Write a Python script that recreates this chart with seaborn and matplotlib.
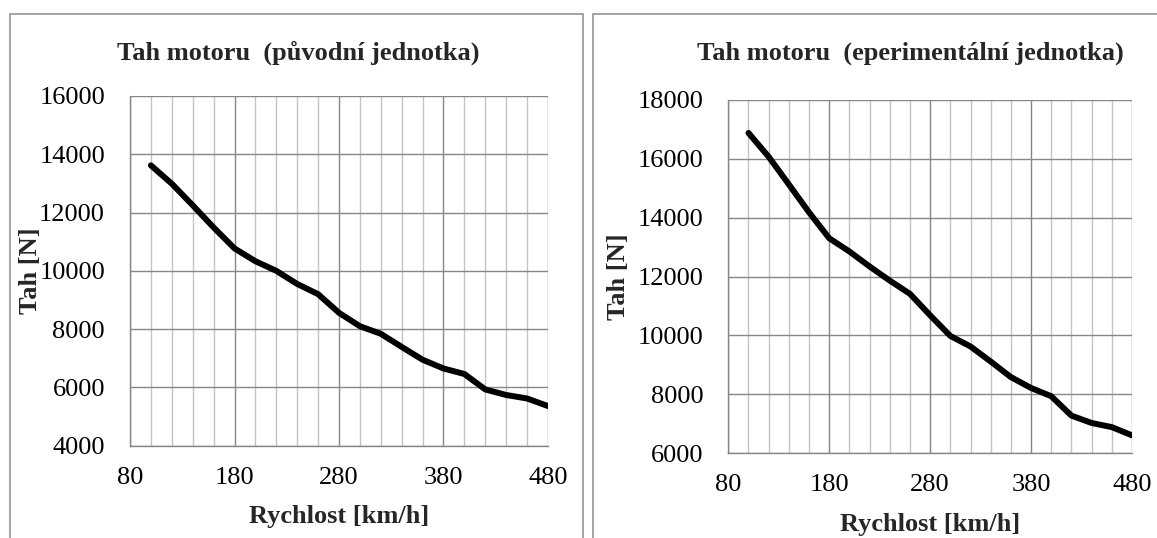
import numpy as np
import pandas as pd
import matplotlib
matplotlib.use("Agg")
import matplotlib.pyplot as plt
import seaborn as sns
from matplotlib.patches import Rectangle
from matplotlib.ticker import MultipleLocator

# ---- data ----
speed = [100, 120, 140, 160, 180, 200, 220, 240, 260, 280,
         300, 320, 340, 360, 380, 400, 420, 440, 460, 480]
thrust_original = [13620, 12990, 12250, 11490, 10770, 10330, 10000, 9550, 9200, 8560,
                   8100, 7840, 7390, 6950, 6650, 6460, 5930, 5740, 5620, 5360]
thrust_experimental = [16880, 16070, 15130, 14180, 13300, 12850, 12340, 11860, 11410, 10680,
                       9980, 9620, 9110, 8580, 8210, 7930, 7270, 7020, 6880, 6600]

title_left = "Tah motoru  (původní jednotka)"
title_right = "Tah motoru  (eperimentální jednotka)"
xlabel = "Rychlost [km/h]"
ylabel = "Tah [N]"
x_ticks = [80, 180, 280, 380, 480]
y_ticks_left = [4000, 6000, 8000, 10000, 12000, 14000, 16000]
y_ticks_right = [6000, 8000, 10000, 12000, 14000, 16000, 18000]

sns.set_style("white")
plt.rcParams["font.family"] = ["Liberation Serif", "DejaVu Serif"]

W, H = 1157, 538
fig = plt.figure(figsize=(W / 100, H / 100), dpi=100)
fig.patch.set_facecolor("white")

GRID_DARK = "#878787"
GRID_LIGHT = "#c3c3c3"
FS = 19

def px_rect(x0, y0, x1, y1):
    return [x0 / W, 1 - y1 / H, (x1 - x0) / W, (y1 - y0) / H]

# chart-area frames
fig.add_artist(Rectangle((9.5 / W, -0.2), (583 - 9.5) / W, 1.2 - 13.5 / H,
                         transform=fig.transFigure, fill=False,
                         edgecolor="#8c8c8c", lw=1.1))
fig.add_artist(Rectangle((593 / W, -0.2), 1.0, 1.2 - 13.7 / H,
                         transform=fig.transFigure, fill=False,
                         edgecolor="#8c8c8c", lw=1.1))

panels = [
    (px_rect(130, 96, 548, 445.7), thrust_original, y_ticks_left, title_left, 298, -0.237),
    (px_rect(728.3, 100, 1132, 453), thrust_experimental, y_ticks_right, title_right, 910, -0.273),
]

for rect, values, yticks, title, title_x, ylab_x in panels:
    ax = fig.add_axes(rect)
    df = pd.DataFrame({"speed": speed, "thrust": values})
    sns.lineplot(data=df, x="speed", y="thrust", ax=ax, color="black",
                 linewidth=4.3, solid_joinstyle="round", solid_capstyle="round")
    ax.set_xlim(x_ticks[0], x_ticks[-1])
    ax.set_ylim(yticks[0], yticks[-1])
    ax.set_xticks(x_ticks)
    ax.set_yticks(yticks)
    ax.xaxis.set_minor_locator(MultipleLocator(20))
    ax.set_axisbelow(True)
    ax.grid(which="major", color=GRID_DARK, lw=1.0)
    ax.grid(which="minor", axis="x", color=GRID_LIGHT, lw=1.0)
    for s in ["top", "right"]:
        ax.spines[s].set_visible(False)
    for s in ["left", "bottom"]:
        ax.spines[s].set_color(GRID_DARK)
        ax.spines[s].set_linewidth(1.0)
    ax.tick_params(axis="both", which="major", direction="out", length=7,
                   width=1, color=GRID_DARK, labelsize=FS, labelcolor="black")
    ax.tick_params(axis="x", which="major", pad=8)
    ax.tick_params(axis="y", which="major", pad=11)
    ax.tick_params(axis="x", which="minor", length=0)
    ax.set_xlabel(xlabel, fontsize=FS, fontweight="bold", va="center")
    ax.set_ylabel(ylabel, fontsize=FS, fontweight="bold", va="center")
    ax.xaxis.set_label_coords(0.5, -0.202)
    ax.yaxis.set_label_coords(ylab_x, 0.5)
    fig.text(title_x / W, 1 - 60 / H, title, fontsize=FS, fontweight="bold",
             ha="center", va="baseline")

fig.savefig("out.png", dpi=100, facecolor="white")
